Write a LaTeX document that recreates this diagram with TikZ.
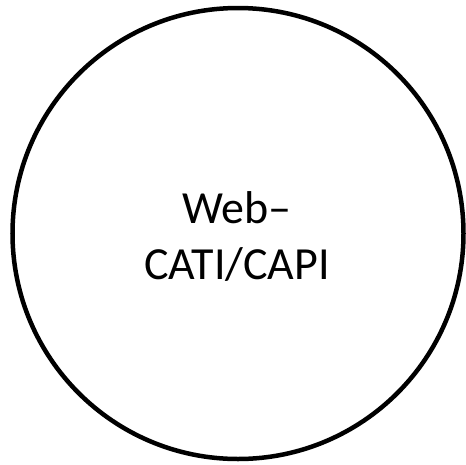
\documentclass[tikz,border=0pt]{standalone}
\usepackage{fontspec}
\setmainfont{Carlito}
\begin{document}
\begin{tikzpicture}[x=1pt,y=1pt,
  ring/.style={circle,draw=black,line width=4.5pt,minimum size=451pt,inner sep=0pt},
  label/.style={align=center,inner sep=0pt,font=\fontsize{46}{56}\selectfont}]
\useasboundingbox (0,0) rectangle (466,-464);
\node[ring] (c) at (238,-233.5) {};
\node[label,anchor=base] (t) at (237,-279) {Web–\\CATI/CAPI};
\end{tikzpicture}
\end{document}
